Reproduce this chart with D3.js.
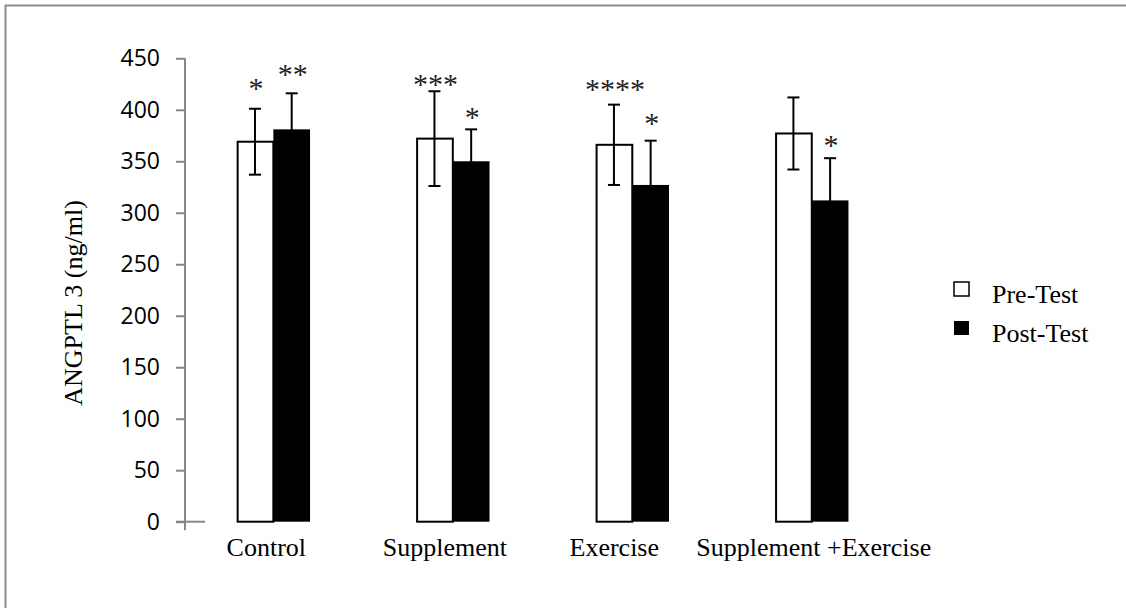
<!DOCTYPE html>
<html>
<head>
<meta charset="utf-8">
<script src="https://cdn.jsdelivr.net/npm/d3@7"></script>
<style>
  html, body { margin: 0; padding: 0; background: #fff; overflow: hidden; }
  svg { display: block; }
</style>
</head>
<body>
<svg id="chart" width="1126" height="608"></svg>
<script>
// ---- data ----
const categories = ["Control", "Supplement", "Exercise", "Supplement +Exercise"];
const seriesNames = ["Pre-Test", "Post-Test"];
const preValues  = [369, 372, 366, 377];
const postValues = [381, 350, 327, 312];
const preErrors  = [32, 46, 39, 35];
const postErrors = [35, 31, 43, 41];
const preStars   = ["*", "***", "****", ""];
const postStars  = ["**", "*", "*", "*"];
const preStarLevel  = [425, 429, 424, 0];
const postStarLevel = [439, 397, 391, 370];
const yTicks = [0, 50, 100, 150, 200, 250, 300, 350, 400, 450];
const yTitle = "ANGPTL 3 (ng/ml)";

// layout-only nudges of the category labels (px)
const labelNudge = [-7, -8, -18, 2];

const svg = d3.select("#chart");
const axisColor = "#868686";
const serif = "'Liberation Serif', 'Times New Roman', serif";
const sans = "'Open Sans', 'Liberation Sans', sans-serif";

// outer border (only top and left edges fall inside the picture)
svg.append("line").attr("x1", 5).attr("x2", 1126).attr("y1", 5.5).attr("y2", 5.5)
  .attr("stroke", "#8c8c8c").attr("stroke-width", 2);
svg.append("line").attr("x1", 5.5).attr("x2", 5.5).attr("y1", 5).attr("y2", 608)
  .attr("stroke", "#8c8c8c").attr("stroke-width", 2);

const y = d3.scaleLinear().domain([0, 450]).range([521.7, 58.3]);
const x = d3.scaleBand().domain(categories).range([183.6, 901.5]).paddingInner(0).paddingOuter(0);
const x1 = d3.scaleBand().domain(seriesNames).range([0, 73.4]);
const groupOffset = (x.bandwidth() - 73.4) / 2;

const rows = categories.map((c, i) => ({
  cat: c, i,
  bars: [
    { s: seriesNames[0], v: preValues[i], e: preErrors[i], star: preStars[i], lvl: preStarLevel[i] },
    { s: seriesNames[1], v: postValues[i], e: postErrors[i], star: postStars[i], lvl: postStarLevel[i] }
  ]
}));

// y axis
const yAxis = d3.axisLeft(y).tickValues(yTicks).tickSize(9).tickPadding(16).tickSizeOuter(0);
const gy = svg.append("g").attr("transform", "translate(185,0)").call(yAxis);
gy.select(".domain").remove();
gy.selectAll(".tick line").attr("stroke", axisColor).attr("stroke-width", 2);
gy.selectAll(".tick text").attr("font-family", sans).attr("font-size", 23).attr("fill", "#000");
// axis line
svg.append("line").attr("x1", 185).attr("x2", 185).attr("y1", y(450)).attr("y2", y(0) + 8.5)
  .attr("stroke", axisColor).attr("stroke-width", 2);
// short horizontal axis stub
svg.append("line").attr("x1", 176).attr("x2", 205).attr("y1", y(0)).attr("y2", y(0))
  .attr("stroke", axisColor).attr("stroke-width", 2);

// bars
const groups = svg.append("g").selectAll("g").data(rows).join("g")
  .attr("transform", d => `translate(${x(d.cat) + groupOffset},0)`);

groups.selectAll("rect").data(d => d.bars).join("rect")
  .attr("x", b => x1(b.s) + (b.s === seriesNames[0] ? 1 : 0))
  .attr("y", b => y(b.v))
  .attr("width", b => x1.bandwidth() - (b.s === seriesNames[0] ? 1 : 0))
  .attr("height", b => y(0) - y(b.v))
  .attr("fill", b => b.s === seriesNames[0] ? "#fff" : "#000")
  .attr("stroke", "#000")
  .attr("stroke-width", b => b.s === seriesNames[0] ? 2 : 0);

// error bars
const err = groups.selectAll("g.err").data(d => d.bars).join("g").attr("class", "err")
  .attr("transform", b => `translate(${x1(b.s) + x1.bandwidth() / 2},0)`);
err.append("line").attr("x1", 0).attr("x2", 0)
  .attr("y1", b => y(b.v + b.e)).attr("y2", b => y(b.v - b.e))
  .attr("stroke", "#000").attr("stroke-width", 2);
err.append("line").attr("x1", -6).attr("x2", 6)
  .attr("y1", b => y(b.v + b.e)).attr("y2", b => y(b.v + b.e))
  .attr("stroke", "#000").attr("stroke-width", 2);
err.append("line").attr("x1", -6).attr("x2", 6)
  .attr("y1", b => y(b.v - b.e)).attr("y2", b => y(b.v - b.e))
  .attr("stroke", b => b.s === seriesNames[0] ? "#000" : "none").attr("stroke-width", 2);

// significance stars
err.filter(b => b.star).append("text")
  .attr("x", 1).attr("y", b => y(b.lvl) + 14)
  .attr("text-anchor", "middle")
  .attr("font-family", serif).attr("font-size", 30).attr("fill", "#222")
  .text(b => b.star);

// category labels
svg.append("g").selectAll("text").data(categories).join("text")
  .attr("x", (c, i) => x(c) + x.bandwidth() / 2 + labelNudge[i])
  .attr("y", 556)
  .attr("text-anchor", "middle")
  .attr("font-family", serif).attr("font-size", 26).attr("fill", "#000")
  .text(c => c);

// y title
svg.append("text")
  .attr("transform", "translate(82,303) rotate(-90)")
  .attr("text-anchor", "middle")
  .attr("font-family", serif).attr("font-size", 26).attr("fill", "#000")
  .text(yTitle);

// legend
const legend = svg.append("g").attr("transform", "translate(954,282)");
const li = legend.selectAll("g").data(seriesNames).join("g")
  .attr("transform", (d, i) => `translate(0,${i * 39})`);
li.append("rect").attr("x", 0).attr("y", 0).attr("width", 15).attr("height", 14)
  .attr("fill", (d, i) => i === 0 ? "#fff" : "#000")
  .attr("stroke", "#000").attr("stroke-width", (d, i) => i === 0 ? 1.5 : 0);
li.append("text").attr("x", 38).attr("y", 21)
  .attr("font-family", serif).attr("font-size", 26).attr("fill", "#000")
  .text(d => d);
</script>
</body>
</html>
